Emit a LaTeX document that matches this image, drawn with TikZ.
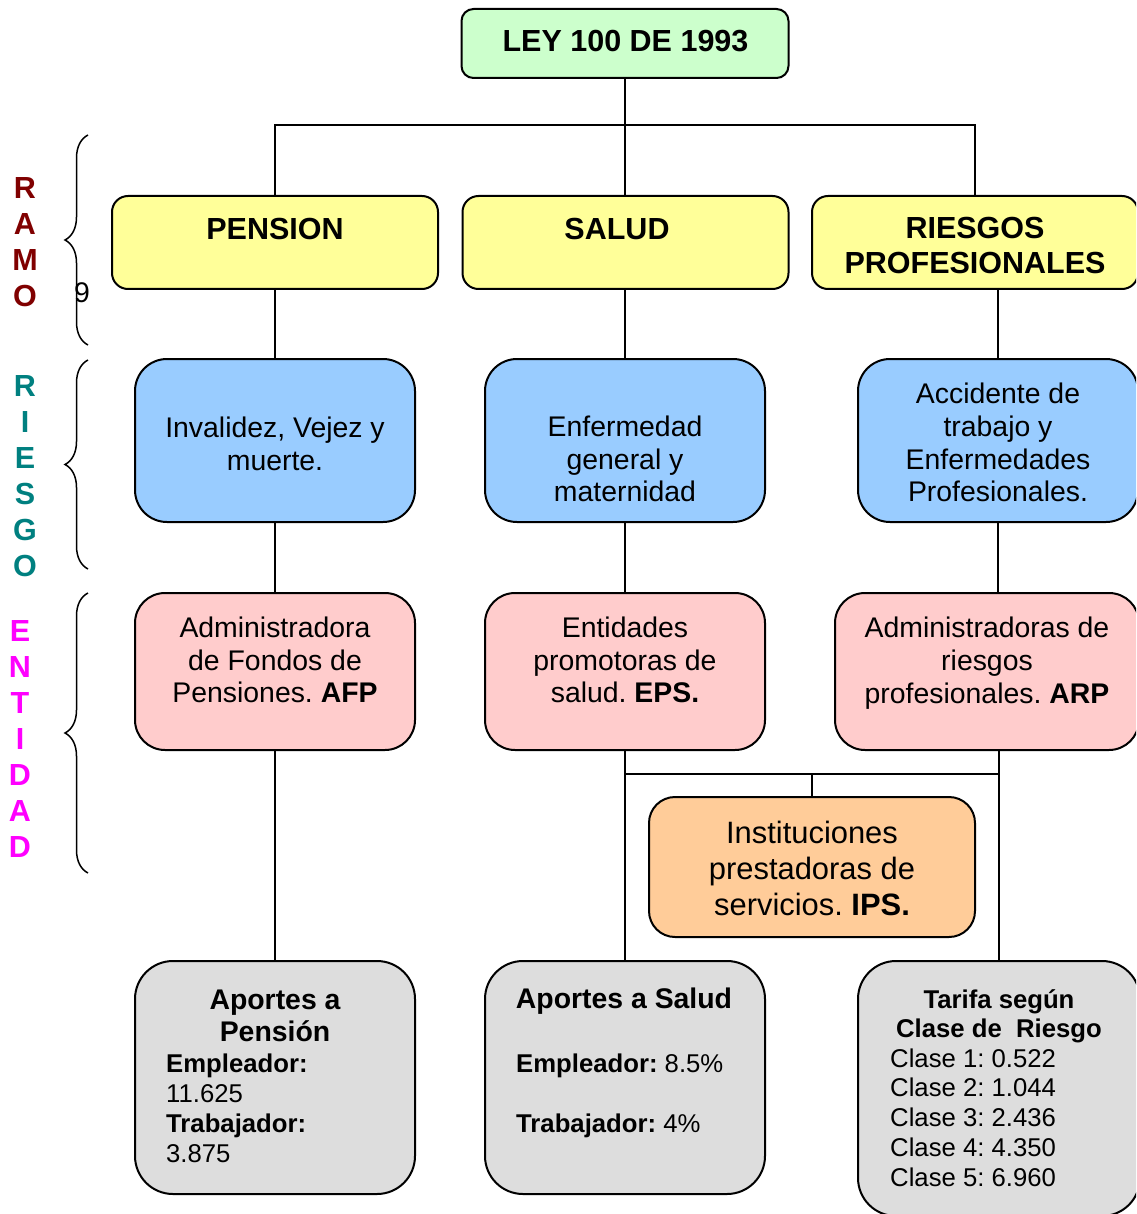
\documentclass[tikz,border=0pt]{standalone}
\usepackage{fontspec}
\setmainfont{Liberation Sans}
\frenchspacing
\usetikzlibrary{decorations.pathreplacing}
\definecolor{leygreen}{HTML}{CCFFCC}
\definecolor{ramoyellow}{HTML}{FFFF99}
\definecolor{riesgoblue}{HTML}{99CCFF}
\definecolor{entpink}{HTML}{FFCCCC}
\definecolor{ipsorange}{HTML}{FFCC99}
\definecolor{aportegray}{HTML}{DDDDDD}
\definecolor{ramored}{HTML}{800000}
\definecolor{riesgoteal}{HTML}{008080}
\definecolor{entmagenta}{HTML}{FF00FF}
\begin{document}
\begin{tikzpicture}[x=1pt,y=-1pt,
  box/.style={draw=black, line width=2pt, inner sep=0pt},
  conn/.style={draw=black, line width=1.6pt},
  hdr/.style={inner sep=0pt, align=center, font=\fontsize{30.5}{35}\selectfont\bfseries},
  body/.style={inner sep=0pt, align=center, font=\fontsize{28.4}{32.7}\selectfont},
  ipstext/.style={inner sep=0pt, align=center, font=\fontsize{30.9}{36}\selectfont},
  aphead/.style={inner sep=0pt, align=center, font=\fontsize{28.4}{32}\selectfont\bfseries},
  apbody/.style={inner sep=0pt, align=left, anchor=west, font=\fontsize{25.7}{29.8}\selectfont},
  side/.style={inner sep=0pt, align=center, font=\fontsize{30.5}{36}\selectfont\bfseries},
  brc/.style={decorate, decoration={brace, amplitude=23pt}, line width=1.5pt}
]
\useasboundingbox (0,0) rectangle (1136,1214);
\clip (0,0) rectangle (1136,1214);

% law
\node[box, fill=leygreen, minimum width=327, minimum height=69, rounded corners=12] (ley) at (625,43.5) {};
\node[hdr] (leyT) at (625.5,41) {LEY 100 DE 1993};

% branches
\node[box, fill=ramoyellow, minimum width=326, minimum height=93, rounded corners=16] (ramoP) at (275,242.5) {};
\node[hdr] (ramoPT) at (275,229) {PENSION};
\node[box, fill=ramoyellow, minimum width=326, minimum height=93, rounded corners=16] (ramoS) at (625.5,242.5) {};
\node[hdr] (ramoST) at (617,229) {SALUD};
\node[box, fill=ramoyellow, minimum width=326, minimum height=93, rounded corners=16] (ramoR) at (975,242.5) {};
\node[hdr] (ramoRT) at (975,246) {RIESGOS\\PROFESIONALES};

% risks
\node[box, fill=riesgoblue, minimum width=280, minimum height=163, rounded corners=32] (riesP) at (275,440.5) {};
\node[body] (riesPT) at (275,443.5) {Invalidez, Vejez y\\muerte.};
\node[box, fill=riesgoblue, minimum width=280, minimum height=163, rounded corners=32] (riesS) at (625,440.5) {};
\node[body] (riesST) at (625,459) {Enfermedad\\general y\\maternidad};
\node[box, fill=riesgoblue, minimum width=280, minimum height=163, rounded corners=32] (riesR) at (998,440.5) {};
\node[body] (riesRT) at (998,442.5) {Accidente de\\trabajo y\\Enfermedades\\Profesionales.};

% entities
\node[box, fill=entpink, minimum width=280, minimum height=157, rounded corners=30] (entP) at (275,671.5) {};
\node[body] (entPT) at (275,660) {Administradora\\de Fondos de\\Pensiones. \textbf{AFP}};
\node[box, fill=entpink, minimum width=280, minimum height=157, rounded corners=30] (entS) at (625,671.5) {};
\node[body] (entST) at (625,660) {Entidades\\promotoras de\\salud. \textbf{EPS.}};
\node[box, fill=entpink, minimum width=304, minimum height=157, rounded corners=30] (entR) at (987,671.5) {};
\node[body] (entRT) at (987,663) {Administradoras de\\riesgos\\profesionales. \textbf{ARP}};

% service providers
\node[box, fill=ipsorange, minimum width=326, minimum height=140, rounded corners=26] (ips) at (812,867) {};
\node[ipstext] (ipsT) at (812,868) {Instituciones\\prestadoras de\\servicios. \textbf{IPS.}};

% contributions
\node[box, fill=aportegray, minimum width=280, minimum height=233, rounded corners=38] (apP) at (275,1077.5) {};
\node[aphead] (apPH) at (275,1016) {Aportes a\\Pensión};
\node[apbody] (apPB) at (166,1108.5) {\textbf{Empleador:}\\11.625\\\textbf{Trabajador:}\\3.875};
\node[box, fill=aportegray, minimum width=280, minimum height=233, rounded corners=38] (apS) at (625,1077.5) {};
\node[aphead] (apSH) at (624,1001) {Aportes a Salud};
\node[apbody] (apSB) at (516,1096) {\textbf{Empleador:} 8.5\%\\[30pt]\textbf{Trabajador:} 4\%};
\node[box, fill=aportegray, minimum width=282, minimum height=255, rounded corners=38] (apR) at (999,1088.5) {};
\node[inner sep=0pt, align=center, font=\fontsize{25.7}{29.5}\selectfont\bfseries] (apRH) at (999,1016.5) {Tarifa según\\Clase de\ \ Riesgo};
\node[apbody] (apRB) at (890,1117.5) {Clase 1: 0.522\\Clase 2: 1.044\\Clase 3: 2.436\\Clase 4: 4.350\\Clase 5: 6.960};

% connectors
\coordinate (jtop) at (625,125);
\coordinate (jips) at (812,774);
\draw[conn] (ley.south) -- (jtop);
\draw[conn] (ramoP.north) |- (jtop) -| (ramoR.north);
\draw[conn] (jtop) -- (jtop |- ramoS.north);
\draw[conn] (ramoP) -- (riesP);
\draw[conn] (ramoS.south -| riesS.north) -- (riesS.north);
\draw[conn] (ramoR.south -| riesR.north) -- (riesR.north);
\draw[conn] (riesP) -- (entP);
\draw[conn] (riesS) -- (entS);
\draw[conn] (riesR.south) -- (riesR.south |- entR.north);
\draw[conn] (entP) -- (apP);
\draw[conn] (entS) -- (apS);
\draw[conn] (entR.south -| apR.north) -- (apR.north);
\draw[conn] (entS.south |- jips) -- (jips -| apR.north);
\draw[conn] (jips) -- (ips.north);

% side labels
\node[side, text=ramored] (ramoL) at (25,242) {R\\A\\M\\O};
\node[side, text=riesgoteal] (riesgoL) at (25,476) {R\\I\\E\\S\\G\\O};
\node[side, text=entmagenta] (entidadL) at (20,739) {E\\N\\T\\I\\D\\A\\D};
\node[body] (nine) at (82,293) {9};

% braces
\draw[brc] (88,345) -- (88,135);
\draw[brc] (88,569) -- (88,360);
\draw[brc] (88,873) -- (88,593);
\end{tikzpicture}
\end{document}
